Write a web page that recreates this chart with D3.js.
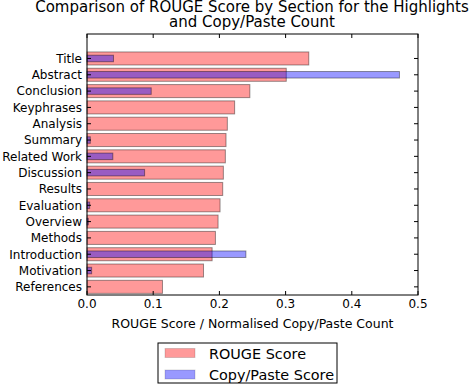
<!DOCTYPE html>
<html>
<head>
<meta charset="utf-8">
<script src="https://cdn.jsdelivr.net/npm/d3@7"></script>
<style>
  body { margin: 0; background: #fff; }
  text { font-family: "DejaVu Sans", sans-serif; fill: #000; }
</style>
</head>
<body>
<script>
var sections = ["Title", "Abstract", "Conclusion", "Keyphrases", "Analysis", "Summary",
  "Related Work", "Discussion", "Results", "Evaluation", "Overview", "Methods",
  "Introduction", "Motivation", "References"];
var rougeScores = [0.335, 0.301, 0.246, 0.223, 0.212, 0.210, 0.209, 0.206, 0.205,
  0.201, 0.198, 0.194, 0.189, 0.176, 0.114];
var copyPasteScores = [0.040, 0.472, 0.097, 0, 0, 0.005, 0.039, 0.087, 0,
  0.004, 0.002, 0, 0.240, 0.007, 0];
var xTicks = [0, 0.1, 0.2, 0.3, 0.4, 0.5];

var W = 472, H = 390;
var plotL = 87, plotR = 418, plotT = 34, plotB = 295;

var svg = d3.select("body").append("svg")
  .attr("width", W)
  .attr("height", H);

var x = d3.scaleLinear().domain([0, 0.5]).range([plotL, plotR]);
var y = d3.scaleLinear().domain([-1.5, 14.5]).range([plotT, plotB]);

// bars
svg.append("g").selectAll("rect")
  .data(rougeScores)
  .enter().append("rect")
    .attr("x", x(0))
    .attr("y", function(d, i) { return y(i - 0.4); })
    .attr("width", function(d) { return x(d) - x(0); })
    .attr("height", y(0.8) - y(0))
    .attr("fill", "rgba(255,0,0,0.4)")
    .attr("stroke", "rgba(0,0,0,0.4)")
    .attr("stroke-width", 1);

svg.append("g").selectAll("rect")
  .data(copyPasteScores)
  .enter().append("rect")
    .attr("x", x(0))
    .attr("y", function(d, i) { return y(i - 0.2); })
    .attr("width", function(d) { return x(d) - x(0); })
    .attr("height", y(0.4) - y(0))
    .attr("fill", "rgba(0,0,255,0.4)")
    .attr("stroke", "rgba(0,0,0,0.4)")
    .attr("stroke-width", 1);

// frame
svg.append("rect")
  .attr("x", plotL).attr("y", plotT)
  .attr("width", plotR - plotL).attr("height", plotB - plotT)
  .attr("fill", "none").attr("stroke", "#000").attr("stroke-width", 1);

// ticks (inward, all four sides)
var tickLen = 4;
var tg = svg.append("g").attr("stroke", "#000").attr("stroke-width", 1);
xTicks.forEach(function(t) {
  tg.append("line").attr("x1", x(t)).attr("x2", x(t)).attr("y1", plotB).attr("y2", plotB - tickLen);
  tg.append("line").attr("x1", x(t)).attr("x2", x(t)).attr("y1", plotT).attr("y2", plotT + tickLen);
});
sections.forEach(function(s, i) {
  tg.append("line").attr("x1", plotL).attr("x2", plotL + tickLen).attr("y1", y(i)).attr("y2", y(i));
  tg.append("line").attr("x1", plotR).attr("x2", plotR - tickLen).attr("y1", y(i)).attr("y2", y(i));
});

// tick labels
svg.append("g").selectAll("text")
  .data(xTicks)
  .enter().append("text")
    .attr("x", function(d) { return x(d); })
    .attr("y", 308)
    .attr("text-anchor", "middle")
    .attr("font-size", 12)
    .text(function(d) { return d.toFixed(1); });

svg.append("g").selectAll("text")
  .data(sections)
  .enter().append("text")
    .attr("x", plotL - 5)
    .attr("y", function(d, i) { return y(i); })
    .attr("dy", "0.36em")
    .attr("text-anchor", "end")
    .attr("font-size", 12)
    .text(function(d) { return d; });

// axis label
svg.append("text")
  .attr("x", (plotL + plotR) / 2)
  .attr("y", 328)
  .attr("text-anchor", "middle")
  .attr("font-size", 12.5)
  .text("ROUGE Score / Normalised Copy/Paste Count");

// title
var title = svg.append("text")
  .attr("text-anchor", "middle")
  .attr("font-size", 15);
title.append("tspan").attr("x", 252).attr("y", 11.5).text("Comparison of ROUGE Score by Section for the Highlights");
title.append("tspan").attr("x", 252).attr("y", 27).text("and Copy/Paste Count");

// legend
var lg = svg.append("g");
lg.append("rect")
  .attr("x", 158).attr("y", 343).attr("width", 179).attr("height", 40)
  .attr("fill", "#fff").attr("stroke", "#000").attr("stroke-width", 1);
var legendItems = [
  { name: "ROUGE Score", color: "rgba(255,0,0,0.4)" },
  { name: "Copy/Paste Score", color: "rgba(0,0,255,0.4)" }
];
legendItems.forEach(function(d, i) {
  lg.append("rect")
    .attr("x", 165).attr("y", 348.5 + i * 21.5)
    .attr("width", 30).attr("height", 9)
    .attr("fill", d.color)
    .attr("stroke", "rgba(0,0,0,0.15)");
  lg.append("text")
    .attr("x", 209).attr("y", 358.5 + i * 21.5)
    .attr("font-size", 14.4)
    .text(d.name);
});
</script>
</body>
</html>
